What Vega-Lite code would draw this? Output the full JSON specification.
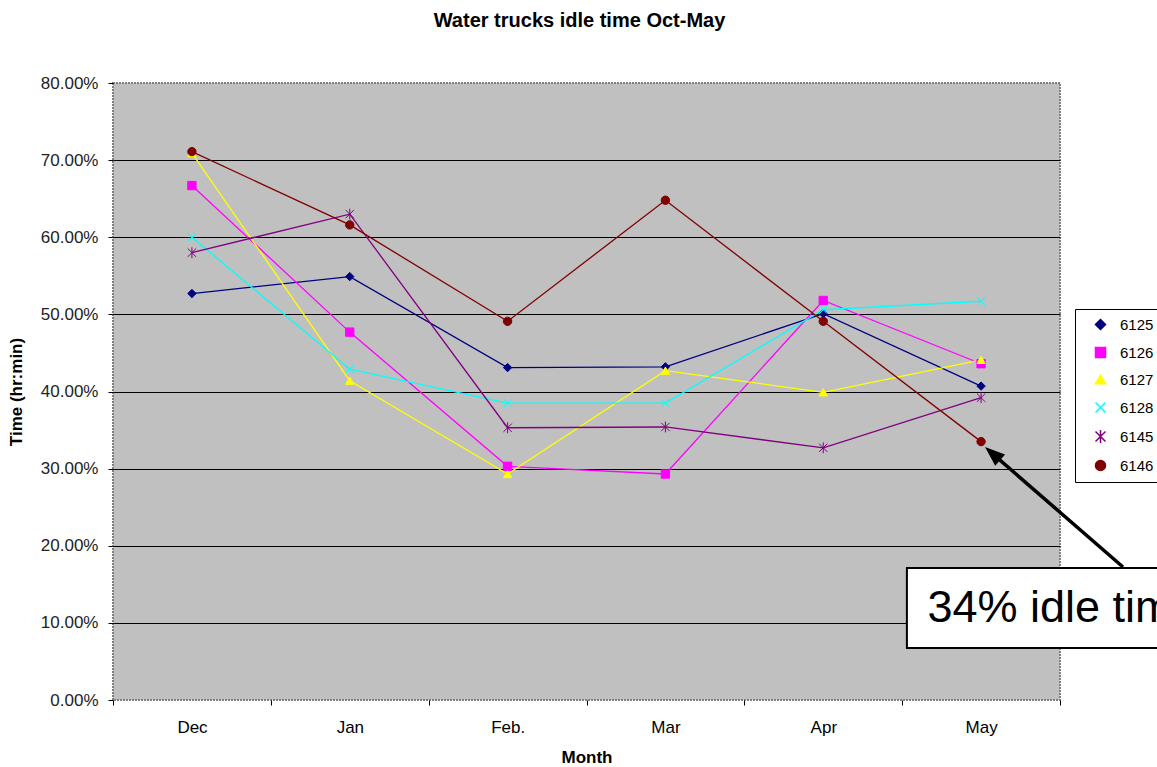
{
  "$schema": "https://vega.github.io/schema/vega-lite/v6.json",
  "width": 947,
  "height": 617,
  "autosize": {"type": "none"},
  "padding": {"left": 113, "top": 83, "right": 97, "bottom": 67},
  "background": "white",
  "config": {
    "font": "Liberation Sans",
    "view": {"fill": "#C0C0C0", "stroke": "#808080", "strokeWidth": 2, "strokeDash": [2, 1]}
  },
  "title": {
    "text": "Water trucks idle time Oct-May",
    "font": "Liberation Sans",
    "fontSize": 20,
    "fontWeight": "bold",
    "color": "black",
    "offset": 43,
    "dx": -7
  },
  "datasets": {
    "series": [
      {"truck": "6125", "month": "Dec", "idx": 0, "value": 0.527},
      {"truck": "6125", "month": "Jan", "idx": 1, "value": 0.549},
      {"truck": "6125", "month": "Feb.", "idx": 2, "value": 0.431},
      {"truck": "6125", "month": "Mar", "idx": 3, "value": 0.432},
      {"truck": "6125", "month": "Apr", "idx": 4, "value": 0.501},
      {"truck": "6125", "month": "May", "idx": 5, "value": 0.407},
      {"truck": "6126", "month": "Dec", "idx": 0, "value": 0.667},
      {"truck": "6126", "month": "Jan", "idx": 1, "value": 0.477},
      {"truck": "6126", "month": "Feb.", "idx": 2, "value": 0.303},
      {"truck": "6126", "month": "Mar", "idx": 3, "value": 0.293},
      {"truck": "6126", "month": "Apr", "idx": 4, "value": 0.518},
      {"truck": "6126", "month": "May", "idx": 5, "value": 0.436},
      {"truck": "6127", "month": "Dec", "idx": 0, "value": 0.709},
      {"truck": "6127", "month": "Jan", "idx": 1, "value": 0.414},
      {"truck": "6127", "month": "Feb.", "idx": 2, "value": 0.293},
      {"truck": "6127", "month": "Mar", "idx": 3, "value": 0.427},
      {"truck": "6127", "month": "Apr", "idx": 4, "value": 0.399},
      {"truck": "6127", "month": "May", "idx": 5, "value": 0.441},
      {"truck": "6128", "month": "Dec", "idx": 0, "value": 0.600},
      {"truck": "6128", "month": "Jan", "idx": 1, "value": 0.429},
      {"truck": "6128", "month": "Feb.", "idx": 2, "value": 0.385},
      {"truck": "6128", "month": "Mar", "idx": 3, "value": 0.385},
      {"truck": "6128", "month": "Apr", "idx": 4, "value": 0.506},
      {"truck": "6128", "month": "May", "idx": 5, "value": 0.517},
      {"truck": "6145", "month": "Dec", "idx": 0, "value": 0.580},
      {"truck": "6145", "month": "Jan", "idx": 1, "value": 0.630},
      {"truck": "6145", "month": "Feb.", "idx": 2, "value": 0.353},
      {"truck": "6145", "month": "Mar", "idx": 3, "value": 0.354},
      {"truck": "6145", "month": "Apr", "idx": 4, "value": 0.327},
      {"truck": "6145", "month": "May", "idx": 5, "value": 0.392},
      {"truck": "6146", "month": "Dec", "idx": 0, "value": 0.711},
      {"truck": "6146", "month": "Jan", "idx": 1, "value": 0.616},
      {"truck": "6146", "month": "Feb.", "idx": 2, "value": 0.491},
      {"truck": "6146", "month": "Mar", "idx": 3, "value": 0.648},
      {"truck": "6146", "month": "Apr", "idx": 4, "value": 0.491},
      {"truck": "6146", "month": "May", "idx": 5, "value": 0.335}
    ],
    "arrow": [
      {"x": 5.899, "y": 0.1724, "x2": 5.072, "y2": 0.3195}
    ],
    "arrowhead": [
      {"x": 5.025, "y": 0.328}
    ],
    "box": [
      {"x": 4.53, "x2": 6.4, "y": 0.1712, "y2": 0.0674}
    ],
    "note": [
      {"x": 4.66, "y": 0.119, "label": "34% idle time"}
    ]
  },
  "layer": [
    {
      "data": {"name": "series"},
      "mark": {"type": "line", "strokeWidth": 1.3},
      "encoding": {
        "x": {
          "field": "idx",
          "type": "quantitative",
          "scale": {"domain": [-0.5, 5.5], "nice": false, "zero": false},
          "axis": {
            "values": [-0.5, 0.5, 1.5, 2.5, 3.5, 4.5, 5.5],
            "labelOffset": 79,
            "labelExpr": "datum.value < 5 ? ['Dec','Jan','Feb.','Mar','Apr','May'][round(datum.value + 0.5)] : ''",
            "labelFlush": false,
            "labelBound": false,
            "labelOverlap": false,
            "grid": false,
            "domain": false,
            "tickSize": 5,
            "tickColor": "black",
            "labelFont": "Liberation Sans",
            "labelFontSize": 17,
            "labelColor": "black",
            "labelPadding": 14,
            "title": "Month",
            "titleFont": "Liberation Sans",
            "titleFontSize": 17,
            "titleFontWeight": "bold",
            "titleColor": "black",
            "titlePadding": 14
          }
        },
        "y": {
          "field": "value",
          "type": "quantitative",
          "scale": {"domain": [0, 0.8], "nice": false},
          "axis": {
            "values": [0, 0.1, 0.2, 0.3, 0.4, 0.5, 0.6, 0.7, 0.8],
            "format": ".2%",
            "grid": true,
            "gridColor": "black",
            "gridWidth": 1.2,
            "gridOpacity": {"condition": {"test": "datum.value < 0.01 || datum.value > 0.79", "value": 0}, "value": 1},
            "domain": false,
            "tickSize": 5,
            "tickColor": "black",
            "labelFont": "Liberation Sans",
            "labelFontSize": 17,
            "labelColor": "#222222",
            "labelPadding": 10,
            "title": "Time (hr:min)",
            "titleFont": "Liberation Sans",
            "titleFontSize": 17,
            "titleFontWeight": "bold",
            "titleColor": "black",
            "titlePadding": 15
          }
        },
        "color": {
          "field": "truck",
          "type": "nominal",
          "scale": {
            "domain": ["6125", "6126", "6127", "6128", "6145", "6146"],
            "range": ["#000080", "#FF00FF", "#FFFF00", "#00FFFF", "#800080", "#800000"]
          },
          "legend": {
            "title": null,
            "orient": "none",
            "legendX": 962,
            "legendY": 226,
            "padding": 8,
            "strokeColor": "black",
            "fillColor": "white",
            "labelFont": "Liberation Sans",
            "labelFontSize": 15,
            "labelColor": "black",
            "symbolSize": 100,
            "symbolOffset": 10,
            "labelOffset": 12,
            "rowPadding": 11
          }
        }
      }
    },
    {
      "data": {"name": "series"},
      "mark": {"type": "point", "filled": true, "size": 70, "strokeWidth": 1, "opacity": 1},
      "encoding": {
        "x": {"field": "idx", "type": "quantitative"},
        "y": {"field": "value", "type": "quantitative"},
        "fill": {
          "field": "truck",
          "type": "nominal",
          "scale": {
            "domain": ["6125", "6126", "6127", "6128", "6145", "6146"],
            "range": ["#000080", "#FF00FF", "#FFFF00", "#00FFFF", "#800080", "#800000"]
          },
          "legend": null
        },
        "stroke": {
          "field": "truck",
          "type": "nominal",
          "scale": {
            "domain": ["6125", "6126", "6127", "6128", "6145", "6146"],
            "range": ["#000080", "#FF00FF", "#FFFF00", "#00FFFF", "#800080", "#800000"]
          },
          "legend": null
        },
        "shape": {
          "field": "truck",
          "type": "nominal",
          "scale": {
            "domain": ["6125", "6126", "6127", "6128", "6145", "6146"],
            "range": ["diamond", "square", "triangle-up", "M-1,-1L1,1M-1,1L1,-1", "M-1,-1L1,1M-1,1L1,-1M0,-1.3V1.3", "circle"]
          },
          "legend": null
        }
      }
    },
    {
      "data": {"name": "arrow"},
      "mark": {"type": "rule", "color": "black", "strokeWidth": 3.5},
      "encoding": {
        "x": {"field": "x", "type": "quantitative"},
        "y": {"field": "y", "type": "quantitative"},
        "x2": {"field": "x2"},
        "y2": {"field": "y2"}
      }
    },
    {
      "data": {"name": "arrowhead"},
      "mark": {"type": "point", "filled": true, "color": "black", "opacity": 1, "shape": "M0,0L0.75,2L-0.75,2Z", "size": 400, "angle": 311},
      "encoding": {
        "x": {"field": "x", "type": "quantitative"},
        "y": {"field": "y", "type": "quantitative"}
      }
    },
    {
      "data": {"name": "box"},
      "mark": {"type": "rect", "fill": "white", "stroke": "black", "strokeWidth": 2},
      "encoding": {
        "x": {"field": "x", "type": "quantitative"},
        "x2": {"field": "x2"},
        "y": {"field": "y", "type": "quantitative"},
        "y2": {"field": "y2"}
      }
    },
    {
      "data": {"name": "note"},
      "mark": {"type": "text", "align": "left", "baseline": "middle", "font": "Liberation Sans", "fontSize": 45, "color": "black"},
      "encoding": {
        "x": {"field": "x", "type": "quantitative"},
        "y": {"field": "y", "type": "quantitative"},
        "text": {"field": "label"}
      }
    }
  ]
}
